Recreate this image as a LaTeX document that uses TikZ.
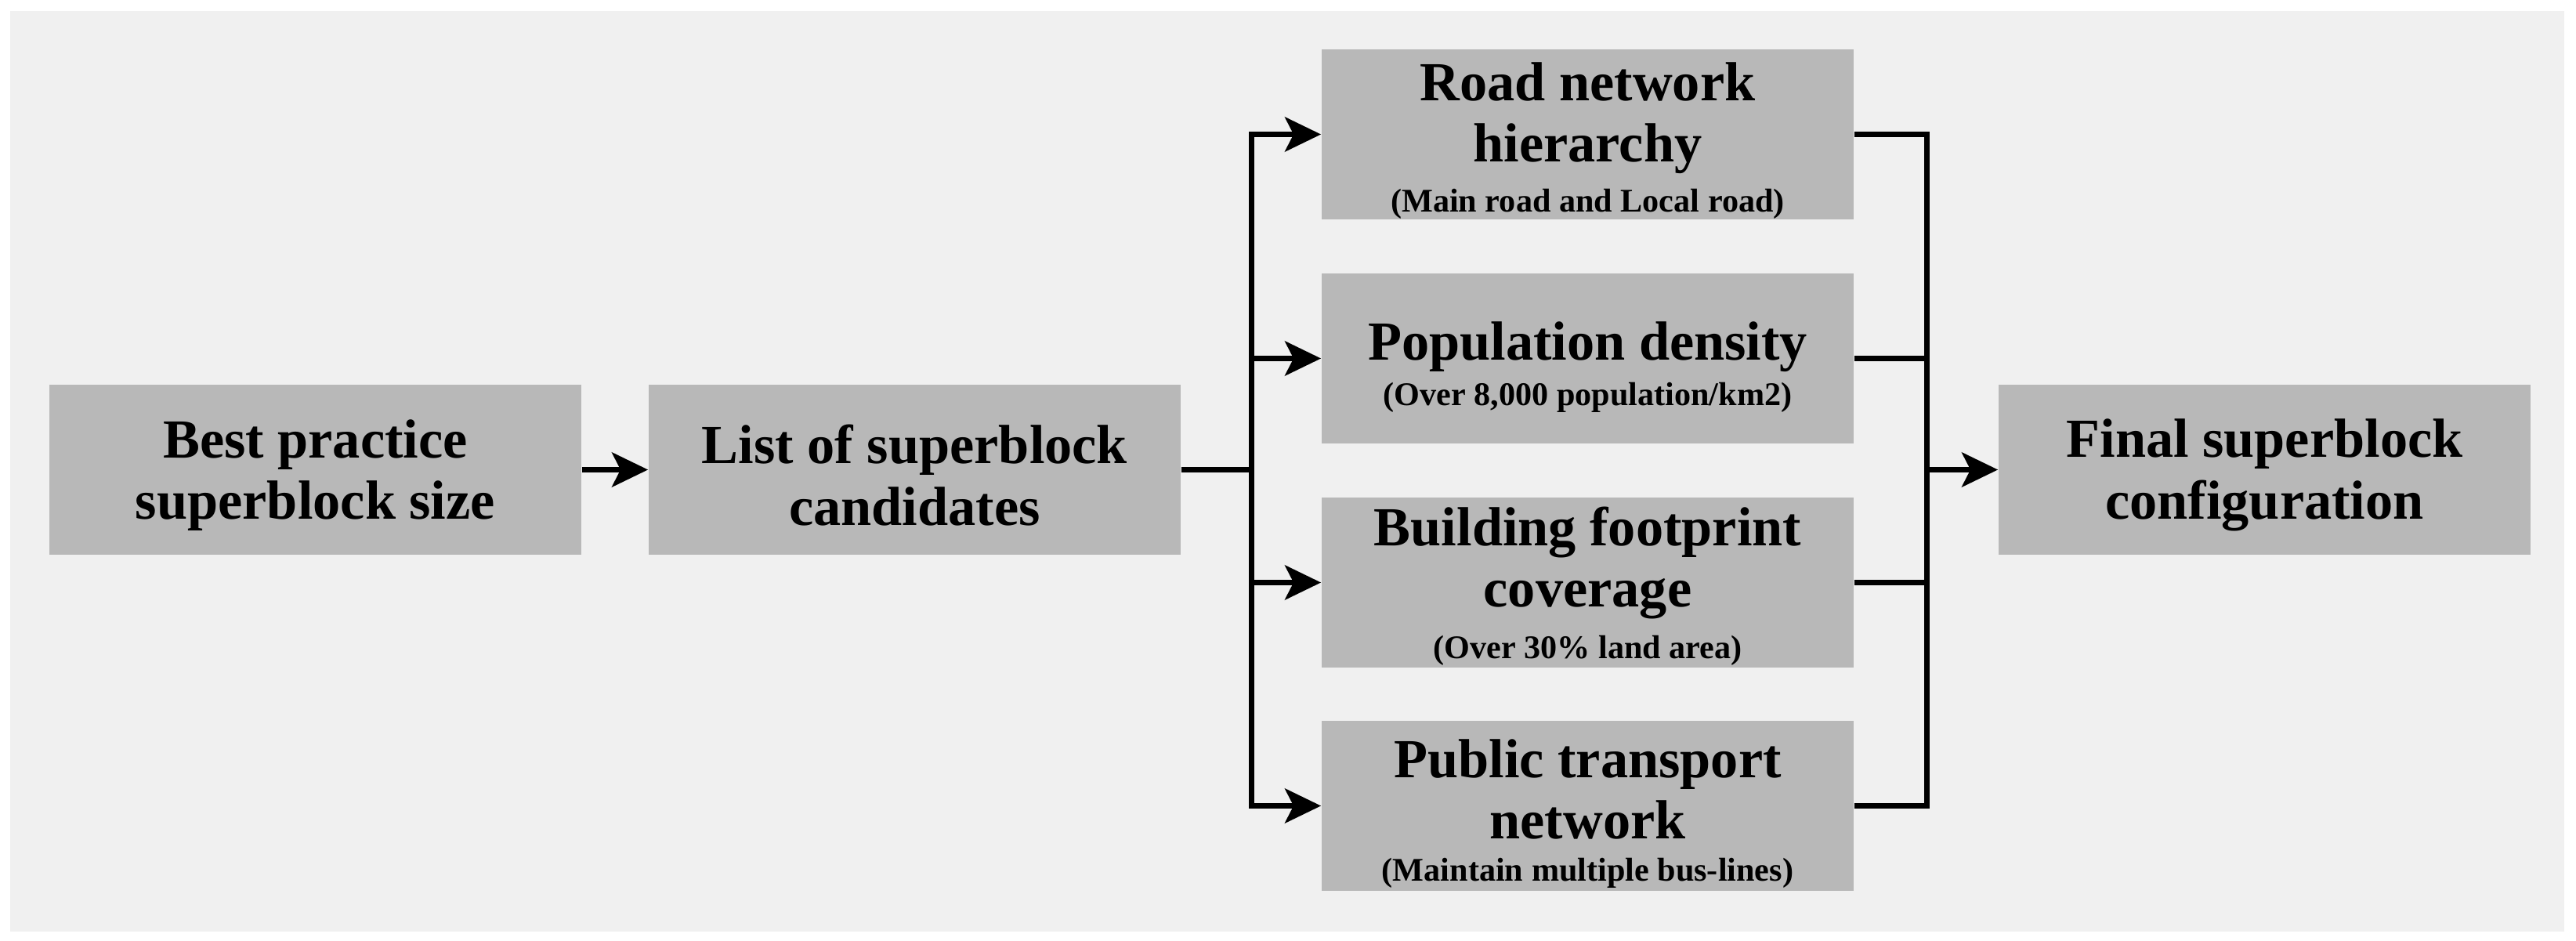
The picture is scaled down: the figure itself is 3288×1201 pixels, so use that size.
\documentclass[tikz,border=0pt]{standalone}
\usepackage{fontspec}
\setmainfont{Liberation Serif}
\usetikzlibrary{arrows.meta}
\definecolor{panelbg}{HTML}{F0F0F0}
\definecolor{boxgray}{HTML}{B8B8B8}
\tikzset{
  stagebox/.style={rectangle, fill=boxgray, minimum width=6.79cm, minimum height=2.17cm, inner sep=0pt},
  maintext/.style={inner sep=0pt, align=center, font=\bfseries\fontsize{20}{22.3}\selectfont},
  subtext/.style={inner sep=0pt, align=center, font=\bfseries\fontsize{12}{13.5}\selectfont},
  flowline/.style={line width=2pt, line join=miter},
  flowarrow/.style={flowline, -{Stealth[length=4.6mm, width=4.4mm, inset=1.1mm]}},
}
\begin{document}
\begin{tikzpicture}[x=0.01cm, y=-0.01cm]
\useasboundingbox (0,0) rectangle (3288,1201);
\fill[white] (0,0) rectangle (3288,1201);
\fill[panelbg] (13,14) rectangle (3273,1189);

\node[stagebox] (best) at (402.5,599.5) {};
\node[stagebox] (list) at (1167.5,599.5) {};
\node[stagebox] (road) at (2026.5,171.5) {};
\node[stagebox] (pop) at (2026.5,457.5) {};
\node[stagebox] (bldg) at (2026.5,743.5) {};
\node[stagebox] (pub) at (2026.5,1028.5) {};
\node[stagebox] (final) at (2890.5,599.5) {};

\node[maintext] (bestT) at ([yshift=-0.07cm]best.center) {Best practice\\superblock size};
\node[maintext] (listT) at ([yshift=-0.07cm]list.center) {List of superblock\\candidates};
\node[maintext] (finalT) at ([yshift=-0.07cm]final.center) {Final superblock\\configuration};

\node[maintext] (roadT) at ([yshift=0.21cm]road.center) {Road network\\hierarchy};
\node[subtext] (roadS) at ([yshift=-0.89cm]road.center) {(Main road and Local road)};
\node[maintext] (popT) at ([yshift=0.15cm]pop.center) {Population density};
\node[subtext] (popS) at ([yshift=-0.50cm]pop.center) {(Over 8,000 population/km2)};
\node[maintext] (bldgT) at ([yshift=0.25cm]bldg.center) {Building footprint\\coverage};
\node[subtext] (bldgS) at ([yshift=-0.87cm]bldg.center) {(Over 30\% land area)};
\node[maintext] (pubT) at ([yshift=0.21cm]pub.center) {Public transport\\network};
\node[subtext] (pubS) at ([yshift=-0.86cm]pub.center) {(Maintain multiple bus-lines)};

\coordinate (jL) at (1597,599.5);
\coordinate (jR) at (2459,599.5);

\draw[flowarrow] (best) -- (list);
\draw[flowline] (list.east) -- (jL);
\draw[flowarrow] (jL) |- (road.west);
\draw[flowarrow] (jL) |- (pop.west);
\draw[flowarrow] (jL) |- (bldg.west);
\draw[flowarrow] (jL) |- (pub.west);
\draw[flowline] (road.east) -| (jR);
\draw[flowline] (pop.east) -| (jR);
\draw[flowline] (bldg.east) -| (jR);
\draw[flowline] (pub.east) -| (jR);
\draw[flowarrow] (jR) -- (final);
\end{tikzpicture}
\end{document}
